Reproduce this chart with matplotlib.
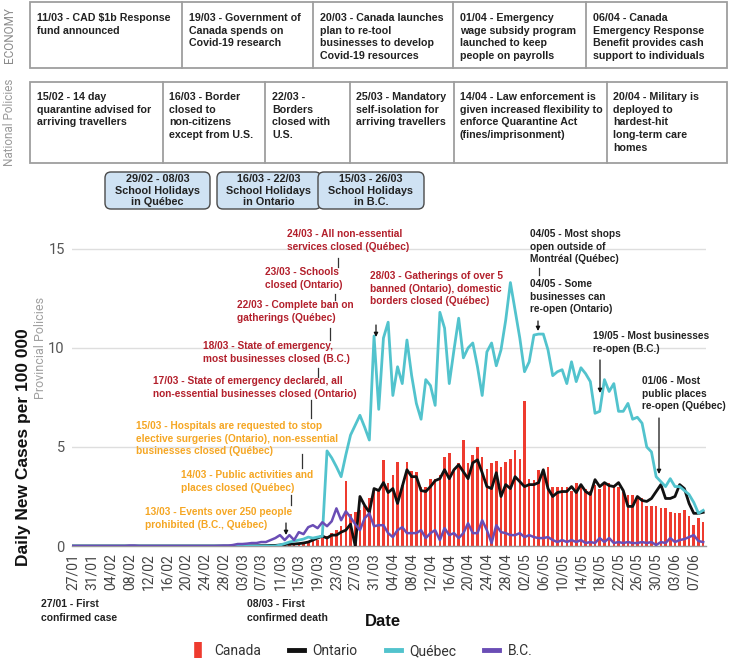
import matplotlib
matplotlib.use("Agg")
import matplotlib.pyplot as plt
import numpy as np
import pandas as pd
from matplotlib.patches import Rectangle, FancyBboxPatch
from matplotlib.lines import Line2D

W, H = 729, 668

# ---------------- data ----------------
start_date = "2020-01-27"
n_days = 135
dates = pd.date_range(start_date, periods=n_days)
tick_every = 4
tick_labels = [d.strftime("%d/%m") for d in dates[::tick_every]][:34]

canada = [
    0, 0, 0, 0, 0, 0, 0, 0, 0, 0,
    0, 0, 0, 0, 0, 0, 0, 0, 0, 0,
    0, 0, 0, 0, 0, 0, 0, 0, 0, 0,
    0, 0, 0, 0, 0, 0.01, 0.01, 0.01, 0.02, 0.02,
    0.02, 0.03, 0.03, 0.04, 0.05, 0.06, 0.08, 0.1, 0.15, 0.18,
    0.2, 0.25, 0.3, 0.4, 0.5, 0.65, 0.8, 1.0, 3.3, 1.6,
    1.7, 1.8, 2.0, 2.4, 2.9, 2.9, 4.35, 3.2, 3.6, 4.25,
    3.1, 4.25, 3.8, 3.75, 3.0, 3.0, 3.4, 3.4, 3.6, 4.5,
    4.7, 3.8, 4.2, 5.35, 4.2, 4.6, 5.0, 4.5, 3.9, 4.2,
    4.3, 4.0, 4.25, 4.4, 4.85, 4.4, 7.3, 3.4, 3.35, 3.85,
    3.75, 4.0, 3.0, 3.0, 3.0, 3.0, 2.8, 3.2, 3.0, 2.9,
    2.8, 3.1, 2.9, 3.2, 3.2, 3.0, 3.0, 2.75, 2.6, 2.6,
    2.4, 2.4, 2.0, 2.0, 2.0, 1.9, 1.9, 1.7, 1.65, 1.65,
    1.8, 1.5, 1.05, 1.4, 1.2,
]

ontario = [
    0, 0, 0, 0, 0, 0, 0, 0, 0, 0,
    0, 0, 0, 0, 0, 0, 0, 0, 0, 0,
    0, 0, 0, 0, 0, 0, 0, 0, 0, 0,
    0, 0, 0, 0, 0, 0, 0, 0, 0.01, 0.01,
    0.02, 0.02, 0.03, 0.03, 0.05, 0.08, 0.1, 0.1, 0.12, 0.15,
    0.2, 0.3, 0.4, 0.5, 0.4, 0.55, 0.55, 0.7, 0.8, 1.1,
    0.0, 2.5, 2.05, 1.7, 2.9, 2.8, 3.2, 2.7, 2.9, 2.15,
    3.0, 3.85, 3.5, 3.5, 2.8, 2.75, 3.0, 3.3, 3.4, 3.85,
    3.4, 3.85, 4.1, 3.75, 3.4, 4.2, 4.35, 3.7, 3.0, 2.9,
    3.7, 2.5, 3.1, 2.9, 3.5, 3.25, 3.0, 3.1, 3.1, 3.2,
    3.85, 2.9, 2.5, 2.7, 2.75, 2.75, 3.0, 2.7, 3.1, 2.75,
    2.6, 3.35, 3.0, 3.2, 3.05, 3.0, 3.2, 2.8, 2.0, 2.0,
    2.5, 2.3, 2.25, 2.4, 2.75, 3.1, 2.4, 2.4, 2.5, 3.1,
    2.9, 2.15, 1.65, 1.65, 1.7,
]

quebec = [
    0, 0, 0, 0, 0, 0, 0, 0, 0, 0,
    0, 0, 0, 0, 0, 0, 0, 0, 0, 0,
    0, 0, 0, 0, 0, 0, 0, 0, 0, 0,
    0, 0, 0, 0, 0, 0, 0, 0, 0, 0,
    0, 0, 0, 0, 0.05, 0.12, 0.2, 0.25, 0.3, 0.35,
    0.45, 0.4, 0.45, 0.5, 4.8, 4.45, 4.0, 3.5, 4.6, 5.6,
    6.1, 6.6, 6.0, 5.35, 10.6, 6.9, 10.5, 11.3, 7.6, 9.05,
    8.2, 10.4, 8.6, 7.2, 6.4, 8.4, 8.1, 7.1, 11.8, 11.0,
    8.2, 9.9, 11.5, 9.5, 10.0, 10.25, 9.05, 7.6, 9.8, 10.25,
    9.1, 9.9, 11.4, 13.3, 11.9, 10.5, 8.8, 9.3, 10.65, 10.7,
    10.7, 9.9, 8.6, 8.8, 8.9, 8.2, 9.3, 8.3, 9.0, 8.7,
    8.3, 6.7, 6.8, 8.4, 7.8, 8.2, 6.8, 6.8, 7.2, 6.4,
    6.5, 6.2, 5.0, 4.75, 3.5, 3.25, 3.0, 3.4, 3.0, 3.0,
    2.8, 2.6, 2.2, 1.65, 1.8,
]

bc = [
    0, 0, 0, 0, 0, 0, 0, 0, 0, 0,
    0, 0, 0.02, 0.02, 0, 0, 0, 0, 0, 0,
    0, 0, 0, 0, 0, 0, 0, 0, 0, 0,
    0, 0.01, 0.02, 0.02, 0.05, 0.1, 0.1, 0.12, 0.15, 0.15,
    0.2, 0.2, 0.3, 0.4, 0.55, 0.3, 0.55, 0.3, 0.7, 0.6,
    0.95, 1.05, 0.9, 1.2, 1.0, 1.25, 1.9, 1.3, 1.75, 1.45,
    1.1, 0.8, 1.4, 1.65, 1.0, 1.05, 1.05, 0.65, 0.45, 0.8,
    0.95, 0.65, 0.65, 0.65, 0.8, 0.4, 0.65, 0.8, 0.3, 0.9,
    0.55, 0.65, 0.4, 0.65, 1.15, 0.65, 0.65, 1.3, 0.8, 0.15,
    1.05, 0.7, 0.65, 0.55, 0.55, 0.65, 0.45, 0.55, 0.45, 0.4,
    0.4, 0.45, 0.3, 0.2, 0.3, 0.2, 0.3, 0.2, 0.3, 0.15,
    0.2, 0.15, 0.4, 0.2, 0.4, 0.15, 0.2, 0.15, 0.2, 0.15,
    0.15, 0.2, 0.15, 0.2, 0.05, 0.2, 0.15, 0.4, 0.2, 0.3,
    0.35, 0.45, 0.55, 0.25, 0.2,
]

series_names = ["Canada", "Ontario", "Québec", "B.C."]
colors = {"Canada": "#ee3b2f", "Ontario": "#111111", "Québec": "#52c3cd",
          "B.C.": "#6a4db5"}

economy_events = [
    "11/03 - CAD \\$1b Response\nfund announced",
    "19/03 - Government of\nCanada spends on\nCovid-19 research",
    "20/03 - Canada launches\nplan to re-tool\nbusinesses to develop\nCovid-19 resources",
    "01/04 - Emergency\nwage subsidy program\nlaunched to keep\npeople on payrolls",
    "06/04 - Canada\nEmergency Response\nBenefit provides cash\nsupport to individuals",
]
national_events = [
    "15/02 - 14 day\nquarantine advised for\narriving travellers",
    "16/03 - Border\nclosed to\nnon-citizens\nexcept from U.S.",
    "22/03 -\nBorders\nclosed with\nU.S.",
    "25/03 - Mandatory\nself-isolation for\narriving travellers",
    "14/04 - Law enforcement is\ngiven increased flexibility to\nenforce Quarantine Act\n(fines/imprisonment)",
    "20/04 - Military is\ndeployed to\nhardest-hit\nlong-term care\nhomes",
]
holidays = [
    "29/02 - 08/03\nSchool Holidays\nin Québec",
    "16/03 - 22/03\nSchool Holidays\nin Ontario",
    "15/03 - 26/03\nSchool Holidays\nin B.C.",
]

# ---------------- figure ----------------
fig = plt.figure(figsize=(W / 100, H / 100), dpi=100)
ax = fig.add_axes([71.7 / W, 1 - 546 / H, (706 - 71.7) / W, (546 - 239) / H])
x = np.arange(n_days)

ax.bar(x, canada, width=0.55, color=colors["Canada"], zorder=2)
ax.plot(x, ontario, color=colors["Ontario"], lw=2.0, zorder=3, solid_joinstyle="round")
ax.plot(x, quebec, color=colors["Québec"], lw=2.0, zorder=4, solid_joinstyle="round")
ax.plot(x, bc, color=colors["B.C."], lw=1.8, zorder=5, solid_joinstyle="round")

ax.set_xlim(-0.3, 134.6)
ax.set_ylim(0, 15.5)
ax.set_yticks([0, 5, 10, 15])
ax.yaxis.grid(True, color="#dedede", lw=1)
ax.set_axisbelow(True)
ax.set_xticks(np.arange(0, len(tick_labels) * tick_every, tick_every))
ax.set_xticklabels(tick_labels, rotation=90, fontsize=10, color="#444444", family="Roboto")
for lab in ax.get_yticklabels():
    lab.set_fontfamily("Roboto")
ax.tick_params(axis="y", length=0, pad=5, labelsize=10.5, labelcolor="#555555")
ax.tick_params(axis="x", length=0, pad=5)
for s in ["left", "top", "right"]:
    ax.spines[s].set_visible(False)
ax.spines["bottom"].set_color("#9a9a9a")
ax.spines["bottom"].set_linewidth(1)

# ---------------- overlay (pixel coordinates) ----------------
ov = fig.add_axes([0, 0, 1, 1], zorder=10)
ov.set_xlim(0, W)
ov.set_ylim(H, 0)
ov.axis("off")
ov.patch.set_alpha(0)

FONT = "Liberation Sans"
RED = "#b3202c"
ORANGE = "#f5a623"
DARK = "#222222"


def note(xp, yp, s, color, fs=7.3, ls=1.33, ha="left", va="top", weight="bold"):
    ov.text(xp, yp, s, color=color, fontsize=fs, linespacing=ls, ha=ha, va=va,
            fontweight=weight, family=FONT)


def vtick(xp, y0, y1):
    ov.plot([xp, xp], [y0, y1], color="#333333", lw=0.9)


def varrow(xp, y0, y1):
    ov.annotate("", xy=(xp, y1), xytext=(xp, y0),
                arrowprops=dict(arrowstyle="-|>", color="#111111", lw=0.9,
                                mutation_scale=6, shrinkA=0, shrinkB=0))


# top tables
box_ec = "#9e9e9e"
ov.add_patch(Rectangle((30, 2), 697, 66, fill=False, ec=box_ec, lw=1.3))
for xd in [182, 313, 453, 586]:
    ov.plot([xd, xd], [2, 68], color=box_ec, lw=1.3)
for xl, s in zip([37, 189, 320, 460, 593], economy_events):
    note(xl, 13, s, DARK, fs=7.7, ls=1.33)

ov.add_patch(Rectangle((30, 82), 697, 81, fill=False, ec=box_ec, lw=1.3))
for xd in [163, 265, 350, 454, 607]:
    ov.plot([xd, xd], [82, 163], color=box_ec, lw=1.3)
for xl, s in zip([37, 169, 272, 356, 460, 613], national_events):
    note(xl, 92, s, DARK, fs=7.7, ls=1.33)

ov.text(10, 35, "ECONOMY", rotation=90, ha="center", va="center", fontsize=8.5,
        color="#8a8a8a", family="Roboto")
ov.text(10, 122, "National Policies", rotation=90, ha="center", va="center",
        fontsize=8.5, color="#9a9a9a", family="Roboto")

# school holidays
for (bx, bw), s in zip([(105, 105), (217, 104), (318, 106)], holidays):
    ov.add_patch(FancyBboxPatch((bx, 172), bw, 37,
                                boxstyle="round,pad=0,rounding_size=6",
                                fc="#cfe2f3", ec="#4a4a4a", lw=1))
    note(bx + bw / 2, 190.5, s, DARK, fs=7.8, ls=1.2, ha="center", va="center")

# axis titles
ov.text(24, 447, "Daily New Cases per 100 000", rotation=90, ha="center",
        va="center", fontsize=12.5, fontweight="bold", color="#111111", family=FONT)
ov.text(41, 348, "Provincial Policies", rotation=90, ha="center", va="center",
        fontsize=9, color="#a0a0a0", family="Roboto")
ov.text(383, 621, "Date", ha="center", va="center", fontsize=12,
        fontweight="bold", color="#111111", family=FONT)

# provincial policy annotations (red)
note(287, 229, "24/03 - All non-essential\nservices closed (Québec)", RED)
vtick(338, 258, 267)
note(265, 267, "23/03 - Schools\nclosed (Ontario)", RED)
vtick(335, 294, 300)
note(237, 300, "22/03 - Complete ban on\ngatherings (Québec)", RED)
vtick(330, 328, 340)
note(203, 341, "18/03 - State of emergency,\nmost businesses closed (B.C.)", RED)
vtick(318, 368, 377)
note(153, 376, "17/03 - State of emergency declared, all\nnon-essential businesses closed (Ontario)", RED)
vtick(311, 400, 418)
note(370, 271, "28/03 - Gatherings of over 5\nbanned (Ontario), domestic\nborders closed (Québec)", RED)
varrow(376, 325, 337)

# orange annotations
note(136, 421, "15/03 - Hospitals are requested to stop\nelective surgeries (Ontario), non-essential\nbusinesses closed (Québec)", ORANGE)
vtick(302, 454, 468)
note(181, 470, "14/03 - Public activities and\nplaces closed (Québec)", ORANGE)
vtick(291, 495, 505)
note(145, 507, "13/03 - Events over 250 people\nprohibited (B.C., Québec)", ORANGE)
varrow(286, 523, 535)

# re-opening annotations (black)
note(530, 229, "04/05 - Most shops\nopen outside of\nMontréal (Québec)", DARK)
vtick(539, 268, 275)
note(530, 279, "04/05 - Some\nbusinesses can\nre-open (Ontario)", DARK)
varrow(538, 321, 331)
note(593, 331, "19/05 - Most businesses\nre-open (B.C.)", DARK)
varrow(600, 360, 393)
note(642, 376, "01/06 - Most\npublic places\nre-open (Québec)", DARK)
varrow(659, 418, 474)

# bottom annotations
note(41, 599, "27/01 - First\nconfirmed case", DARK, fs=7.5, ls=1.45)
note(247, 599, "08/03 - First\nconfirmed death", DARK, fs=7.5, ls=1.45)

# legend
handles = [
    Line2D([], [], marker="|", markersize=11, mew=5.5, color=colors["Canada"], ls="none"),
    Line2D([], [], color=colors["Ontario"], lw=3.5),
    Line2D([], [], color=colors["Québec"], lw=3.5),
    Line2D([], [], color=colors["B.C."], lw=3.5),
]
leg = fig.legend(handles, series_names, loc="center", bbox_to_anchor=(361.5 / W, 1 - 651 / H),
                 ncol=4, frameon=False, handlelength=1.1, handletextpad=0.6,
                 columnspacing=2.0, prop={"family": "Roboto", "size": 10})
for t in leg.get_texts():
    t.set_color("#333333")

fig.savefig("out.png", dpi=100)
